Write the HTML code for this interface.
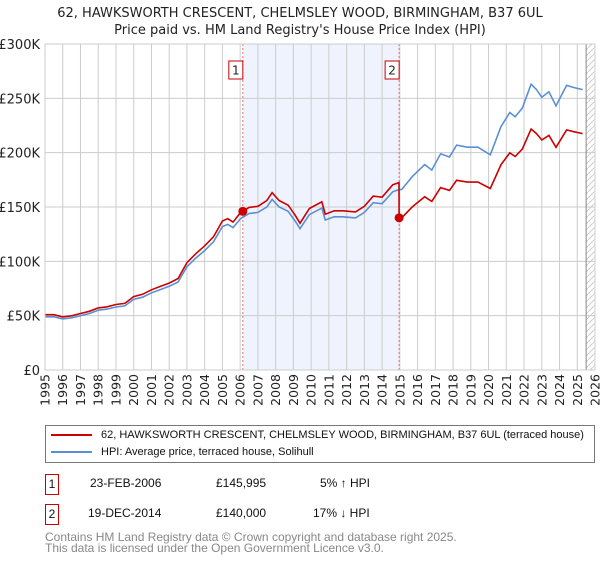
<!DOCTYPE html>
<html><head><meta charset="utf-8"><style>
body{margin:0;background:#fff;width:600px;height:560px;overflow:hidden;font-family:"Liberation Sans","DejaVu Sans",sans-serif}
svg text{font-family:"DejaVu Sans","Liberation Sans",sans-serif}
</style></head><body>
<svg id="c" width="600" height="560" xmlns="http://www.w3.org/2000/svg"></svg>
<script>
const hpiYears=[1995,1995.5,1996,1996.5,1997,1997.5,1998,1998.5,1999,1999.5,2000,2000.5,2001,2001.5,2002,2002.5,2003,2003.5,2004,2004.5,2005,2005.3,2005.6,2006,2006.5,2007,2007.5,2007.8,2008.2,2008.7,2009.1,2009.37,2009.9,2010.6,2010.8,2011.3,2011.8,2012.5,2013,2013.5,2014,2014.6,2014.96,2015.1,2015.7,2016.4,2016.8,2017.3,2017.8,2018.2,2018.8,2019.4,2020.1,2020.7,2021.2,2021.5,2021.9,2022.4,2022.7,2023.0,2023.4,2023.8,2024.4,2024.8,2025.3];
const hpiValues=[49,49,47,48,50,52,55,56,58,59,65,67,71,74,77,81,95,103,110,118,132,134,131,139,144,145,150,157,150,146,137,130,143,149,138,141,141,140,145,154,153,164,166,166,178,189,184,199,196,207,205,205,198,224,237,233,241,263,258,251,256,243,262,260,258];
const saleYears=[2006.15,2014.96];
const salePrices=[145995,140000];
const saleLabels=["1","2"];
const yTicks=[0,50,100,150,200,250,300];
const yTickLabels=["£0","£50K","£100K","£150K","£200K","£250K","£300K"];
const xTicks=[1995,1996,1997,1998,1999,2000,2001,2002,2003,2004,2005,2006,2007,2008,2009,2010,2011,2012,2013,2014,2015,2016,2017,2018,2019,2020,2021,2022,2023,2024,2025,2026];

const L=45,R=595,T=44,B=370;
const X=y=>L+(y-1995)/31*(R-L);
const Y=v=>B-v/300*(B-T);
const svg=document.getElementById('c');
const NS='http://www.w3.org/2000/svg';
function mk(tag,a,parent){const e=document.createElementNS(NS,tag);for(const k in a)e.setAttribute(k,a[k]);(parent||svg).appendChild(e);return e;}
function hpiAt(t){for(let i=0;i<hpiYears.length-1;i++){if(t<=hpiYears[i+1]){const f=(t-hpiYears[i])/(hpiYears[i+1]-hpiYears[i]);return hpiValues[i]+f*(hpiValues[i+1]-hpiValues[i]);}}return hpiValues[hpiValues.length-1];}

let t=mk('text',{x:300,y:17,'text-anchor':'middle','font-size':13,fill:'#222'});t.textContent='62, HAWKSWORTH CRESCENT, CHELMSLEY WOOD, BIRMINGHAM, B37 6UL';

t=mk('text',{x:300,y:34,'text-anchor':'middle','font-size':13,fill:'#222'});t.textContent="Price paid vs. HM Land Registry's House Price Index (HPI)";


let sh=mk('rect',{x:X(saleYears[0]),y:T,width:X(saleYears[1])-X(saleYears[0]),height:B-T,fill:'#eef3fd'});

const defs=mk('defs',{});const pat=mk('pattern',{id:'h',width:6,height:6,patternUnits:'userSpaceOnUse'},defs);
mk('path',{d:'M0,6 L6,0',stroke:'#ccc','stroke-width':1},pat);
let hz=mk('rect',{x:X(2025.5),y:T,width:R-X(2025.5),height:B-T,fill:'url(#h)'});


xTicks.forEach(y=>{const g=mk('line',{x1:X(y),x2:X(y),y1:T,y2:B,stroke:'#ccc','stroke-width':1});

const tx=mk('text',{x:0,y:0,'font-size':12.5,fill:'#222','text-anchor':'end',transform:`translate(${X(y)+4.5},${B+4}) rotate(-90)`});tx.textContent=y;
});
yTicks.forEach((v,i)=>{const g=mk('line',{x1:L,x2:R,y1:Y(v),y2:Y(v),stroke:'#ccc','stroke-width':1});

const tx=mk('text',{x:40,y:Y(v)+5,'font-size':13,fill:'#222','text-anchor':'end'});tx.textContent=yTickLabels[i];
});
let dl=mk('line',{x1:X(2025.5),x2:X(2025.5),y1:T,y2:B,stroke:'#888','stroke-width':1});


saleYears.forEach((s,i)=>{const l=mk('line',{x1:X(s),x2:X(s),y1:T,y2:B,stroke:'#e87070','stroke-width':1,'stroke-dasharray':'2,2'});

const bx=mk('rect',{x:X(s)-14,y:61,width:14,height:18,fill:'#fff',stroke:'#c00','stroke-width':1});

const tx=mk('text',{x:X(s)-7,y:74.5,'font-size':12,'text-anchor':'middle',fill:'#222'});tx.textContent=saleLabels[i];
});

let d=hpiYears.map((y,i)=>(i?'L':'M')+X(y).toFixed(1)+','+Y(hpiValues[i]).toFixed(1)).join(' ');
let hp=mk('path',{d:d,fill:'none',stroke:'#5b8fd4','stroke-width':1.6});

const r0=salePrices[0]/1000/hpiAt(saleYears[0]), r1=salePrices[1]/1000/hpiAt(saleYears[1]);
let pts=[];
hpiYears.forEach((y,i)=>{if(y<saleYears[1])pts.push([y,hpiValues[i]*r0]);});
pts.push([saleYears[1]-0.01,hpiAt(saleYears[1])*r0]);
pts.push([saleYears[1],salePrices[1]/1000]);
hpiYears.forEach((y,i)=>{if(y>saleYears[1])pts.push([y,hpiValues[i]*r1]);});
d=pts.map((p,i)=>(i?'L':'M')+X(p[0]).toFixed(1)+','+Y(p[1]).toFixed(1)).join(' ');
let pp=mk('path',{d:d,fill:'none',stroke:'#cc0000','stroke-width':1.6});

saleYears.forEach((s,i)=>{const c=mk('circle',{cx:X(s),cy:Y(salePrices[i]/1000),r:4.5,fill:'#cc0000'});
});
let bd=mk('rect',{x:L,y:T,width:R-L,height:B-T,fill:'none',stroke:'#ccc'});

</script>
<div style="position:absolute;left:45px;top:425px;width:548px;height:36px;border:1px solid #777;font-size:11px;color:#111">
 <div style="position:absolute;left:5px;top:3px;white-space:nowrap"><span style="display:inline-block;width:41px;height:2px;background:#cc0000;vertical-align:middle;margin-right:9px"></span>62, HAWKSWORTH CRESCENT, CHELMSLEY WOOD, BIRMINGHAM, B37 6UL (terraced house)</div>
 <div style="position:absolute;left:5px;top:20px;white-space:nowrap"><span style="display:inline-block;width:41px;height:2px;background:#5b8fd4;vertical-align:middle;margin-right:9px"></span>HPI: Average price, terraced house, Solihull</div>
</div>
<div style="position:absolute;left:45px;top:474px;font-size:12px;color:#111">
 <div style="position:absolute;top:0;left:0;white-space:nowrap">
  <span style="position:absolute;left:0;top:0;width:12px;height:19px;border:1px solid #c00;text-align:center;line-height:19px">1</span>
  <span style="position:absolute;left:45px;top:2px">23-FEB-2006</span>
  <span style="position:absolute;left:171px;top:2px">£145,995</span>
  <span style="position:absolute;left:275px;top:2px">5% ↑ HPI</span>
 </div>
 <div style="position:absolute;top:30px;left:0;white-space:nowrap">
  <span style="position:absolute;left:0;top:0;width:12px;height:19px;border:1px solid #c00;text-align:center;line-height:19px">2</span>
  <span style="position:absolute;left:43px;top:2px">19-DEC-2014</span>
  <span style="position:absolute;left:171px;top:2px">£140,000</span>
  <span style="position:absolute;left:268px;top:2px">17% ↓ HPI</span>
 </div>
</div>
<div style="position:absolute;left:45px;top:532px;font-size:12px;line-height:11px;color:#888;white-space:nowrap">Contains HM Land Registry data © Crown copyright and database right 2025.<br>This data is licensed under the Open Government Licence v3.0.</div>
</body></html>
